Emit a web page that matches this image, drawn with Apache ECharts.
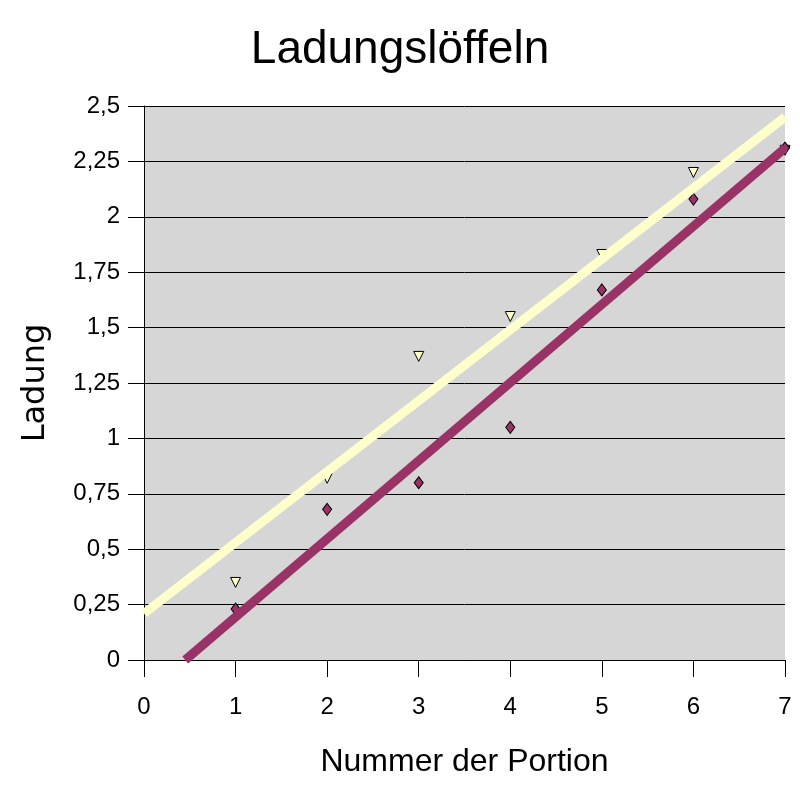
<!DOCTYPE html>
<html>
<head>
<meta charset="utf-8">
<script src="https://cdn.jsdelivr.net/npm/echarts@6/dist/echarts.min.js"></script>
<style>html,body{margin:0;padding:0;background:#fff}#c{width:800px;height:800px}</style>
</head>
<body>
<div id="c"></div>
<script>
const portions = [1, 2, 3, 4, 5, 6, 7];
const triangleValues = [0.35, 0.82, 1.37, 1.55, 1.83, 2.2, 2.3];
const diamondValues = [0.23, 0.68, 0.8, 1.05, 1.67, 2.08, 2.31];
const triangleTrendX = [0, 7];
const triangleTrendY = [0.21, 2.45];
const diamondTrendX = [0.45, 7];
const diamondTrendY = [0, 2.31];

const zip = (xs, ys) => xs.map((x, i) => [x, ys[i]]);
const fmt = v => String(v).replace('.', ',');

const chart = echarts.init(document.getElementById('c'), null, {renderer: 'canvas'});
chart.setOption({
  animation: false,
  backgroundColor: '#ffffff',
  title: {
    text: 'Ladungslöffeln',
    left: 'center',
    top: 22,
    textStyle: {fontFamily: '"Liberation Sans", sans-serif', fontSize: 46, fontWeight: 'normal', color: '#000'}
  },
  grid: {left: 144, right: 15, top: 106, bottom: 140, show: true, backgroundColor: '#d6d6d6', borderWidth: 0},
  xAxis: {
    type: 'value', min: 0, max: 7, interval: 1,
    name: 'Nummer der Portion', nameLocation: 'middle', nameGap: 86,
    nameTextStyle: {fontFamily: '"Liberation Sans", sans-serif', fontSize: 32, color: '#000'},
    axisLine: {show: true, onZero: false, lineStyle: {color: '#000', width: 1}},
    axisTick: {show: true, length: 17, lineStyle: {color: '#000', width: 1}},
    axisLabel: {fontFamily: '"Liberation Sans", sans-serif', fontSize: 24, color: '#000', margin: 35},
    splitLine: {show: false}
  },
  yAxis: {
    type: 'value', min: 0, max: 2.5, interval: 0.25,
    name: 'Ladung', nameLocation: 'middle', nameGap: 92, nameRotate: 90,
    nameTextStyle: {fontFamily: '"DejaVu Sans", sans-serif', fontSize: 32, color: '#000'},
    axisLine: {show: true, onZero: false, lineStyle: {color: '#000', width: 1}},
    axisTick: {show: true, length: 16, lineStyle: {color: '#000', width: 1}},
    axisLabel: {fontFamily: '"Liberation Sans", sans-serif', fontSize: 24, color: '#000', margin: 24, formatter: fmt},
    splitLine: {show: true, lineStyle: {color: '#000', width: 1}}
  },
  series: [
    {
      name: 'Dreiecke', type: 'scatter', data: zip(portions, triangleValues),
      symbol: 'triangle', symbolRotate: 180, symbolSize: [10, 10],
      itemStyle: {color: '#FFFFCC', borderColor: '#000', borderWidth: 1, opacity: 1}, z: 2
    },
    {
      name: 'Rauten', type: 'scatter', data: zip(portions, diamondValues),
      symbol: 'diamond', symbolSize: [9, 12],
      itemStyle: {color: '#993366', borderColor: '#000', borderWidth: 1, opacity: 1}, z: 2
    },
    {
      name: 'Trend Dreiecke', type: 'line', data: zip(triangleTrendX, triangleTrendY),
      symbol: 'none', silent: true, clip: true,
      lineStyle: {color: '#FFFFCC', width: 9, cap: 'butt'}, z: 3
    },
    {
      name: 'Trend Rauten', type: 'line', data: zip(diamondTrendX, diamondTrendY),
      symbol: 'none', silent: true, clip: true,
      lineStyle: {color: '#993366', width: 9, cap: 'butt'}, z: 4
    }
  ]
});
</script>
</body>
</html>
